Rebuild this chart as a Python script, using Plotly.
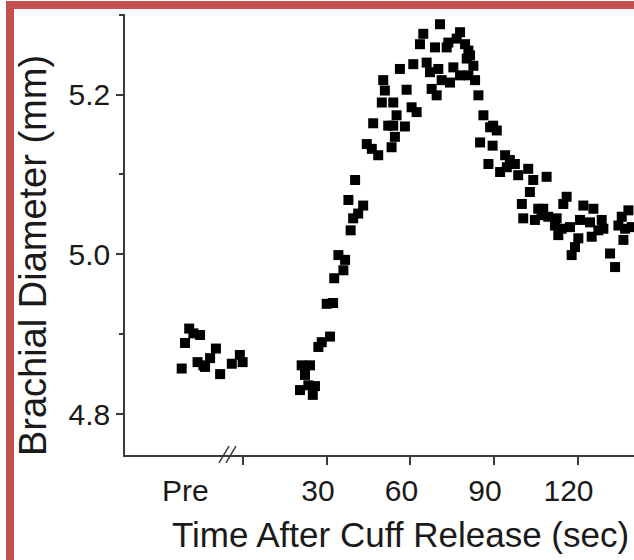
import plotly.graph_objects as go

# ---- data ----
# "Pre" baseline measurements, placed on a pseudo-time scale left of the axis break
pre_t = [-22.2, -21.0, -19.5, -18.0, -15.6, -16.5, -14.4, -13.8, -12.0, -9.9, -8.4, -4.2, -1.3, -0.3]
pre_d = [4.857, 4.889, 4.907, 4.901, 4.899, 4.865, 4.861, 4.859, 4.870, 4.882, 4.850, 4.863, 4.874, 4.865]

# After cuff release (sec, mm)
post_t = [20.9, 23.9, 22.1, 20.3, 23.3, 25.7, 24.9, 26.9, 28.1, 31.1, 29.9, 32.2,
          32.6, 34.1, 36.5, 35.9, 38.5, 39.4, 41.2, 37.7, 43.0, 40.1,
          44.3, 46.1, 48.4, 53.2, 54.4, 46.6, 52.0, 53.8, 49.7, 53.8, 55.0, 50.8, 50.2,
          56.2, 58.0, 58.6, 60.4, 62.2, 61.0,
          63.4, 64.6, 70.6, 68.8, 65.8, 67.0, 67.6, 69.4, 70.0, 71.2, 73.0, 73.6, 74.2,
          75.4, 76.6, 77.8, 77.8, 79.6, 80.8, 81.4, 80.2, 80.8, 82.6, 83.2, 84.4,
          86.2, 89.7, 88.6, 91.0, 85.0, 89.5, 88.0, 94.0, 95.7, 97.5, 92.2, 94.6, 98.7,
          102.3, 104.1, 108.9, 102.9, 100.0, 100.5, 116.1, 114.9, 105.9, 107.7, 107.1,
          109.5, 104.7, 112.5, 111.9, 114.3, 117.3, 113.1, 122.1, 125.7, 120.9, 124.5,
          128.7, 129.3, 127.5, 125.1, 120.3, 119.1, 117.9, 138.3, 135.9, 134.7, 137.1,
          136.5, 131.7, 133.5, 139.5]
post_d = [4.861, 4.861, 4.849, 4.830, 4.836, 4.835, 4.824, 4.884, 4.890, 4.897, 4.938, 4.939,
          4.970, 4.999, 4.993, 4.980, 5.030, 5.045, 5.051, 5.068, 5.061, 5.093,
          5.138, 5.132, 5.124, 5.134, 5.147, 5.164, 5.161, 5.161, 5.190, 5.190, 5.174, 5.205, 5.218,
          5.232, 5.160, 5.206, 5.184, 5.178, 5.238,
          5.263, 5.276, 5.288, 5.259, 5.240, 5.228, 5.207, 5.199, 5.232, 5.218, 5.259, 5.265, 5.215,
          5.234, 5.270, 5.278, 5.224, 5.263, 5.255, 5.249, 5.245, 5.224, 5.236, 5.218, 5.199,
          5.174, 5.161, 5.159, 5.155, 5.140, 5.136, 5.113, 5.124, 5.118, 5.113, 5.103, 5.109, 5.099,
          5.107, 5.093, 5.097, 5.078, 5.063, 5.045, 5.072, 5.063, 5.057, 5.057, 5.049,
          5.047, 5.043, 5.045, 5.036, 5.032, 5.034, 5.024, 5.061, 5.057, 5.043, 5.040,
          5.043, 5.032, 5.030, 5.022, 5.020, 5.009, 4.999, 5.055, 5.047, 5.036, 5.032,
          5.018, 5.001, 4.984, 5.034]

x_tickvals = [0, 30, 60, 90, 120]
x_ticktext = ["", "30", "60", "90", "120"]
pre_label = "Pre"
pre_label_t = -21.0
y_tickvals = [4.8, 5.0, 5.2]
y_ticktext = ["4.8", "5.0", "5.2"]
y_minor = [4.9, 5.1, 5.3]
x_title = "Time After Cuff Release (sec)"
y_title = "Brachial Diameter (mm)"

FONT = "Liberation Sans, Arial, Helvetica, sans-serif"
TXT = "#1a1a1a"
AX = "#3a3a3a"
RED = "#c25050"

fig = go.Figure()
marker = dict(symbol="square", size=10, color="black", line=dict(width=0))
fig.add_trace(go.Scatter(x=pre_t, y=pre_d, mode="markers", marker=marker, showlegend=False))
fig.add_trace(go.Scatter(x=post_t, y=post_d, mode="markers", marker=marker, showlegend=False))

fig.update_layout(
    width=634, height=560, autosize=False,
    margin=dict(l=125, r=0, t=14, b=105, pad=0),
    paper_bgcolor="white", plot_bgcolor="white",
    font=dict(family=FONT, color=TXT),
)
fig.update_xaxes(
    range=[-42.57, 140.3], showgrid=False, zeroline=False,
    showline=True, linecolor=AX, linewidth=1.5,
    ticks="outside", ticklen=8, tickwidth=1.5, tickcolor=AX,
    tickvals=x_tickvals, ticktext=x_ticktext, ticklabelshift=-9,
    tickfont=dict(size=30, family=FONT, color=TXT),
)
fig.update_yaxes(
    range=[4.74875, 5.3008], showgrid=False, zeroline=False,
    showline=True, linecolor=AX, linewidth=1.5,
    ticks="outside", ticklen=7, tickwidth=1.5, tickcolor=AX,
    tickvals=y_tickvals, ticktext=y_ticktext,
    tickfont=dict(size=30, family=FONT, color=TXT),
    minor=dict(tickvals=y_minor, ticks="outside", ticklen=4, tickwidth=1.5, tickcolor=AX),
)

annotations = [
    dict(text=pre_label, x=pre_label_t, xref="x", y=-0.081, yref="paper",
         showarrow=False, xanchor="center", yanchor="middle",
         font=dict(size=30, family=FONT, color=TXT)),
    dict(text=x_title, x=0.542, xref="paper", y=-0.180, yref="paper",
         showarrow=False, xanchor="center", yanchor="middle",
         font=dict(size=35, family=FONT, color=TXT)),
    dict(text=y_title, x=-0.181, xref="paper", y=0.453, yref="paper",
         showarrow=False, xanchor="center", yanchor="middle", textangle=-90,
         font=dict(size=38, family=FONT, color=TXT)),
]
fig.update_layout(annotations=annotations)

shapes = [
    # axis break marks "//"
    dict(type="line", xref="x", yref="paper", x0=-8.8, x1=-5.2, y0=-0.018, y1=0.020,
         line=dict(color=AX, width=1.5)),
    dict(type="line", xref="x", yref="paper", x0=-6.3, x1=-2.7, y0=-0.018, y1=0.020,
         line=dict(color=AX, width=1.5)),
    # red frame (top and left edges)
    dict(type="rect", xref="paper", yref="paper", x0=-0.2338, x1=-0.2181, y0=-0.25, y1=1.0295,
         fillcolor=RED, line=dict(width=0)),
    dict(type="rect", xref="paper", yref="paper", x0=-0.2338, x1=1.02, y0=1.0113, y1=1.0295,
         fillcolor=RED, line=dict(width=0)),
]
fig.update_layout(shapes=shapes)

fig.write_html("out.html")
